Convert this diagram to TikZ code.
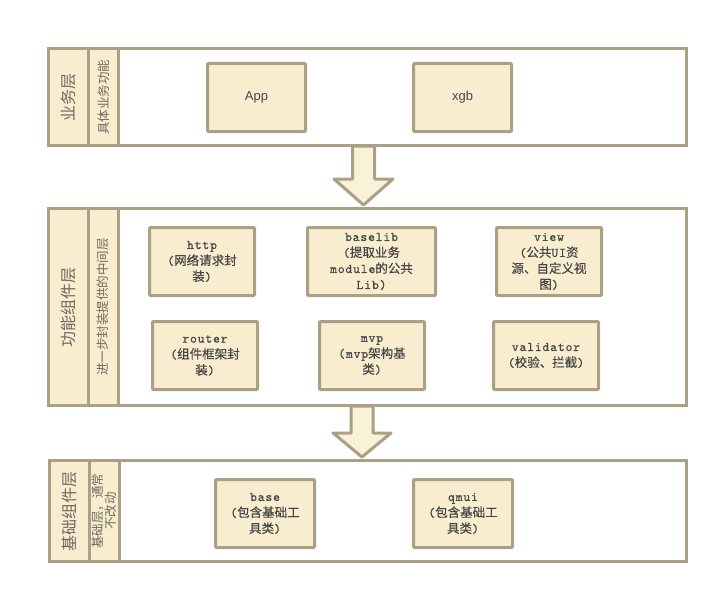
\documentclass[tikz,border=0pt]{standalone}
\usepackage{fontspec}
\setmainfont{Noto Sans CJK SC}
\newfontfamily\monofont{lmmono10-regular.otf}[LetterSpace=6, FakeBold=0.6, Scale=1.05]
\newfontfamily\boxcjk{Noto Sans CJK SC}[FakeBold=0.4]
\newfontfamily\arialfont{Liberation Sans}
\usetikzlibrary{positioning}
\definecolor{edgegray}{RGB}{170,160,134}
\definecolor{cream}{RGB}{248,237,206}
\definecolor{arrowfill}{RGB}{250,242,215}
\definecolor{txtgray}{RGB}{70,70,70}
\definecolor{lblgray}{RGB}{110,106,96}
\tikzset{
  layer/.style={draw=edgegray, line width=3pt, fill=white, inner sep=0pt},
  labelcol/.style={draw=edgegray, line width=3pt, fill=cream, inner sep=0pt},
  comp/.style={draw=edgegray, line width=3pt, fill=cream, rounded corners=1pt,
    minimum height=68pt, align=center, inner sep=0pt, text=txtgray,
    font=\boxcjk\fontsize{12.5}{16}\selectfont},
  bigtitle/.style={rotate=90, text=lblgray, font=\fontsize{16}{18}\selectfont},
  subtitle/.style={rotate=90, text=lblgray, align=center, font=\fontsize{12.5}{13}\selectfont},
  blockarrow/.style={draw=edgegray, line width=3pt, fill=arrowfill, line join=round},
}
\begin{document}
\begin{tikzpicture}[x=1pt, y=-1pt]
    \useasboundingbox (0,0) rectangle (720,594);

    % 三个层次的外框
    \node[layer, minimum width=638pt, minimum height=97pt] (biz) at (367.5,97) {};
    \node[layer, minimum width=638pt, minimum height=197pt] (func) at (367.5,307) {};
    \node[layer, minimum width=637pt, minimum height=101pt] (basic) at (368,511) {};

    % 层与层之间的箭头
    \draw[blockarrow] (352.5,146) -- (352.5,179) -- (334,179) -- (363.5,205)
        -- (393,179) -- (374.5,179) -- (374.5,146) -- cycle;
    \draw[blockarrow] (351,406) -- (351,433) -- (333,433) -- (362,457)
        -- (391,433) -- (373,433) -- (373,406) -- cycle;

    % 左侧的标题列
    \node[labelcol, minimum width=40pt, minimum height=97pt] (bizA) at (68.5,97) {};
    \node[labelcol, minimum width=29.5pt, minimum height=97pt] (bizB) at (103.25,97) {};
    \node[labelcol, minimum width=40pt, minimum height=197pt] (funcA) at (68.5,307) {};
    \node[labelcol, minimum width=29.5pt, minimum height=197pt] (funcB) at (103.25,307) {};
    \node[labelcol, minimum width=40pt, minimum height=101pt] (basicA) at (69.5,511) {};
    \node[labelcol, minimum width=29.5pt, minimum height=101pt] (basicB) at (104.25,511) {};

    \node[bigtitle] (bizT) at (bizA) {业务层};
    \node[subtitle] (bizS) at (bizB) {具体业务功能};
    \node[bigtitle] (funcT) at (funcA) {功能组件层};
    \node[subtitle] (funcS) at (funcB) {进一步封装提供的中间层};
    \node[bigtitle] (basicT) at (basicA) {基础组件层};
    \node[subtitle] (basicS) at (basicB) {基础层，通常\\不改动};

    % 业务层
    \node[comp, minimum width=98pt, font=\arialfont\fontsize{13}{16}\selectfont] (app) at (256.5,97.5) {App};
    \node[comp, minimum width=98pt, font=\arialfont\fontsize{13}{16}\selectfont] (xgb) at (462.5,97.5) {xgb};

    % 功能组件层
    \node[comp, minimum width=105pt] (http) at (202,261.5)
        {{\monofont http}\\{\monofont(}网络请求封\\装{\monofont)}};
    \node[comp, minimum width=128pt] (baselib) at (371.5,261.5)
        {{\monofont baselib}\\{\monofont(}提取业务\\{\monofont module}的公共\\{\monofont Lib)}};
    \node[comp, minimum width=105pt] (view) at (549,261.5)
        {{\monofont view}\\{\monofont(}公共{\monofont UI}资\\源、自定义视\\图{\monofont)}};
    \node[comp, minimum width=105pt] (router) at (205,355.5)
        {{\monofont router}\\{\monofont(}组件框架封\\装{\monofont)}};
    \node[comp, minimum width=105pt] (mvp) at (372,355.5)
        {{\monofont mvp}\\{\monofont(mvp}架构基\\类{\monofont)}};
    \node[comp, minimum width=105pt] (validator) at (546,355.5)
        {{\monofont validator}\\{\monofont(}校验、拦截{\monofont)}};

    % 基础组件层
    \node[comp, minimum width=99pt] (base) at (265,513.5)
        {{\monofont base}\\{\monofont(}包含基础工\\具类{\monofont)}};
    \node[comp, minimum width=99pt] (qmui) at (463,513.5)
        {{\monofont qmui}\\{\monofont(}包含基础工\\具类{\monofont)}};
\end{tikzpicture}
\end{document}
